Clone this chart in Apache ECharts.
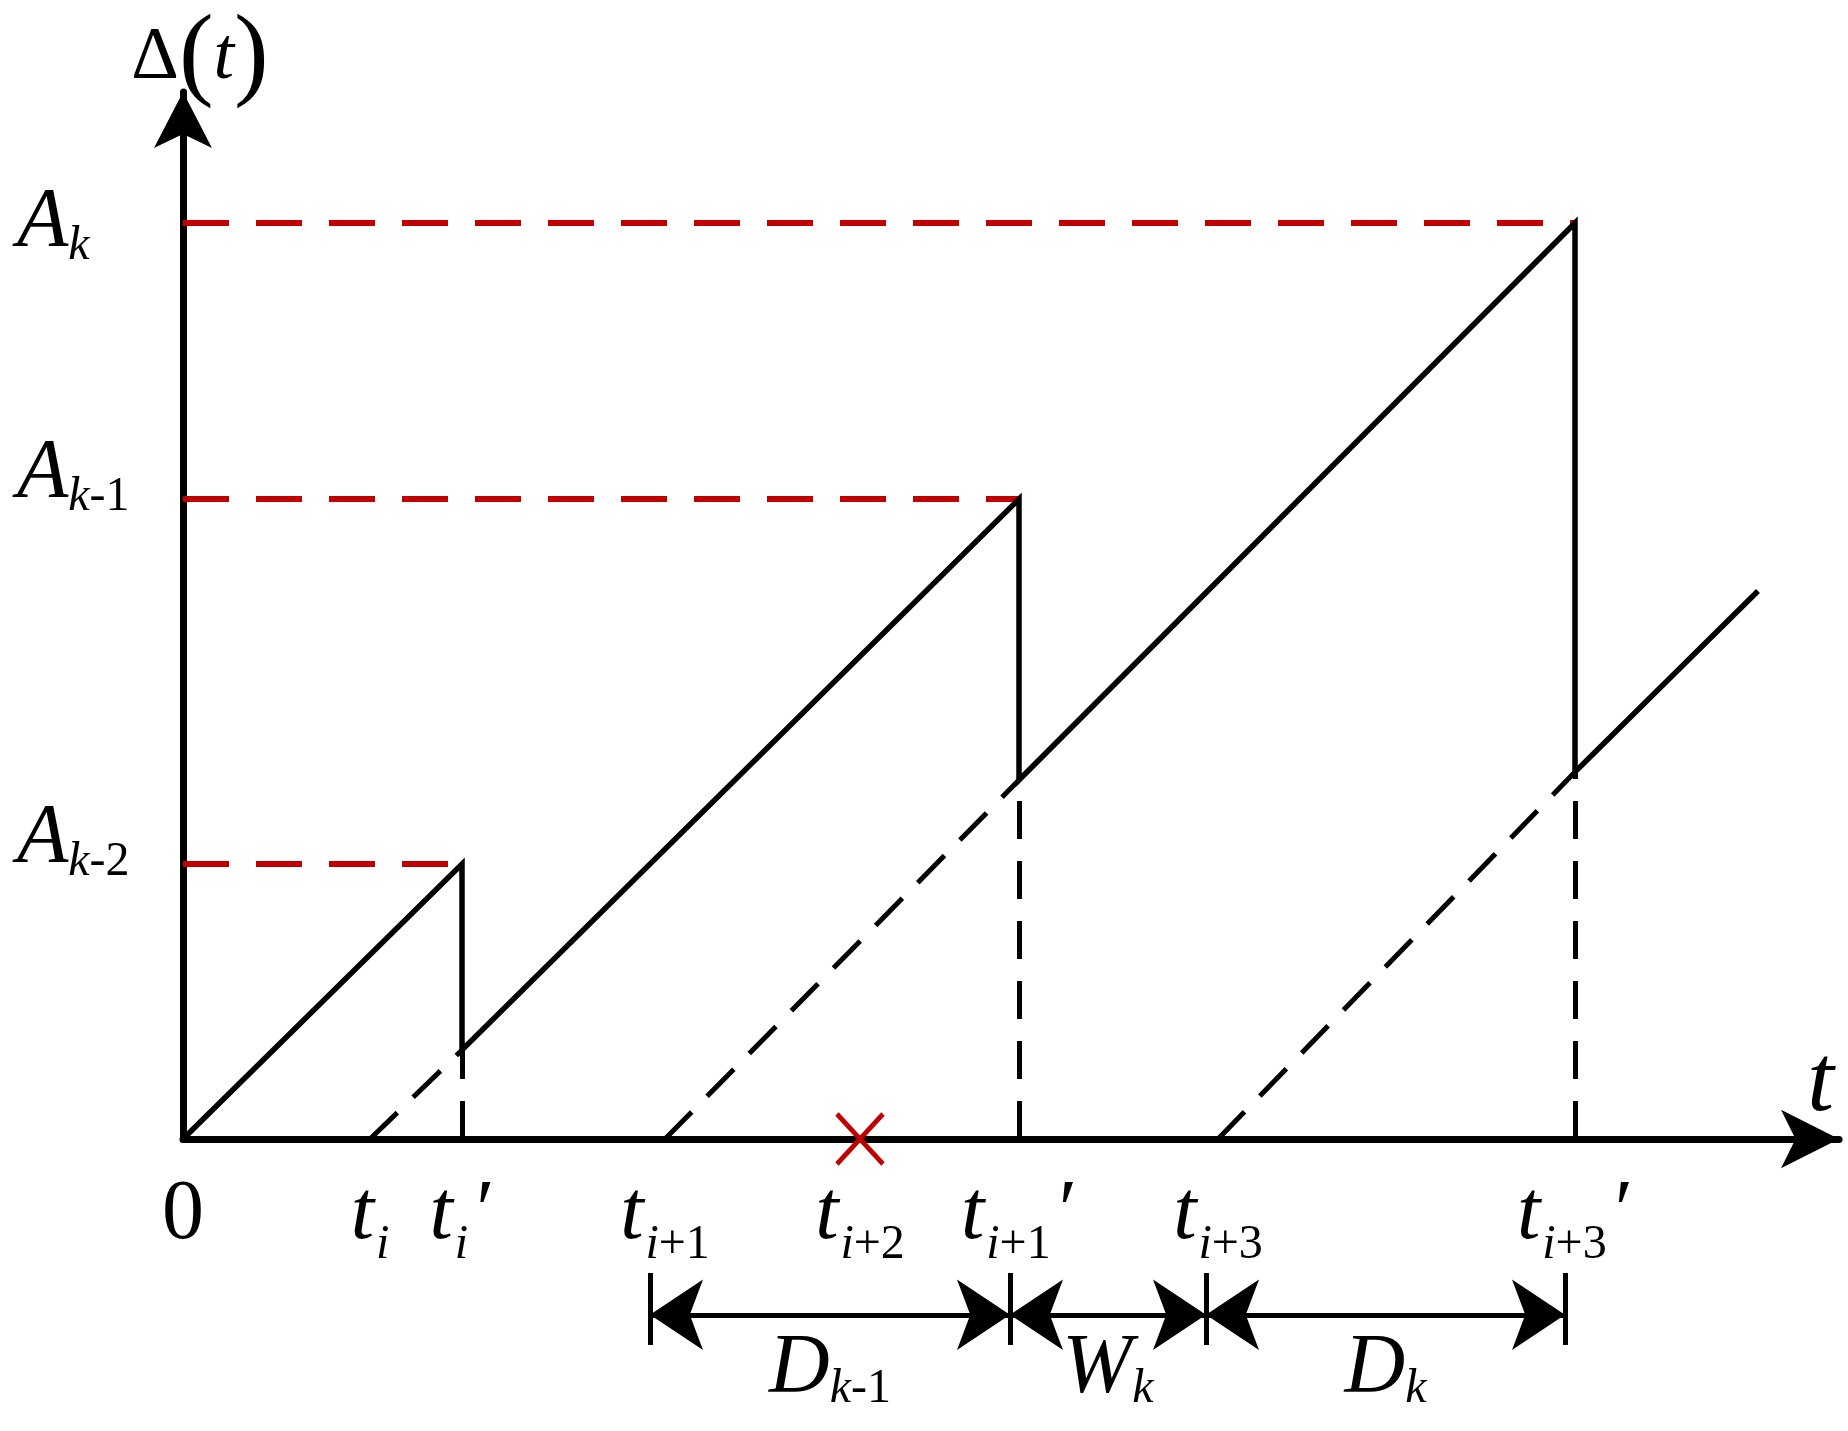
<!DOCTYPE html>
<html><head><meta charset="utf-8">
<script src="https://cdn.jsdelivr.net/npm/echarts@6/dist/echarts.min.js"></script>
<style>html,body{margin:0;padding:0;background:#fff}#c{width:1848px;height:1431px}</style>
</head><body><div id="c"></div>
<script>
// ---- data (time and age in the same arbitrary units) ----
const genTimes = [18.7, 48.2, 103.5];        // t_i, t_{i+1}, t_{i+3}
const deliveryTimes = [27.9, 83.6, 139.2];   // t_i', t_{i+1}', t_{i+3}'
const lostTimes = [67.7];                    // t_{i+2} (lost update)
const peakAges = [27.5, 64.0, 91.6];         // A_{k-2}, A_{k-1}, A_k
const resetAges = [8.9, 35.9, 36.7];         // age right after each delivery
const endPoint = [157.5, 54.8];
const xTickValues = [0, 18.7, 27.9, 48.2, 67.7, 83.6, 103.5, 139.2];
const xTickLabels = ['{z|0}', '{m|t}{s|i}', '{m|t}{s|i}{p|′}', '{m|t}{s|i}{u|+1}', '{m|t}{s|i}{u|+2}',
                     '{m|t}{s|i}{u|+1}{p|′}', '{m|t}{s|i}{u|+3}', '{m|t}{s|i}{u|+3}{p|′}'];
const yTickValues = [27.5, 64.0, 91.6];
const yTickLabels = ['{a1|A}{b1|k}{c1|-2}', '{a1|A}{b1|k}{c1|-1}', '{a2|A}{b2|k}'];
const dimMarks = [46.7, 82.7, 102.3, 138.2];
const dimLabels = ['{m|D}{s|k}{u|-1}', '{m|W}{s|k}', '{m|D}{s|k}'];

const serif = 'Liberation Serif';
const RED = '#c00000';
const DIM_Y = 0.42;

// assemble marks from the arrays
const sawtooth = [[0, 0]];
deliveryTimes.forEach((t, i) => { sawtooth.push([t, peakAges[i]], [t, resetAges[i]]); });
sawtooth.push(endPoint);
const dashedBlack = [];
genTimes.forEach((g, i) => dashedBlack.push({coords: [[g, 0], [deliveryTimes[i], resetAges[i]]]}));
deliveryTimes.forEach((t, i) => dashedBlack.push({coords: [[t, 0], [t, resetAges[i]]]}));
const redLines = peakAges.map((a, i) => ({coords: [[0, a], [deliveryTimes[i], a]]}));
const bars = dimMarks.map(m => ({coords: [[m, 0], [m, 1]]}));
const spans = [];
const arrowHalves = [];
for (let i = 0; i < dimMarks.length - 1; i++) {
  const a = dimMarks[i], b = dimMarks[i + 1], mid = (a + b) / 2;
  spans.push({coords: [[a, DIM_Y], [b, DIM_Y]]});
  arrowHalves.push({coords: [[mid, DIM_Y], [a, DIM_Y]]}, {coords: [[mid, DIM_Y], [b, DIM_Y]]});
}

function lookup(vals, labels, v) {
  let best = 0;
  vals.forEach((x, i) => { if (Math.abs(x - v) < Math.abs(vals[best] - v)) best = i; });
  return labels[best];
}

const X_MAX = 165.6;
const chart = echarts.init(document.getElementById('c'), null, {renderer: 'canvas'});
chart.setOption({
  animation: false,
  backgroundColor: '#fff',
  grid: [
    {left: 183, right: 9, top: 92, bottom: 292},
    {left: 183, right: 9, top: 1273, height: 72}
  ],
  xAxis: [{
    gridIndex: 0, type: 'value', min: 0, max: X_MAX,
    axisLine: {show: true, onZero: false, symbol: ['none', 'arrow'], symbolSize: [44, 58],
      lineStyle: {color: '#000', width: 7}},
    axisTick: {show: false}, splitLine: {show: false},
    axisLabel: {
      customValues: xTickValues, margin: 35, color: '#000',
      formatter: v => lookup(xTickValues, xTickLabels, v),
      rich: {
        m: {fontFamily: serif, fontSize: 84, fontStyle: 'italic', height: 84, verticalAlign: 'top', color: '#000'},
        z: {fontFamily: serif, fontSize: 84, height: 84, verticalAlign: 'top', color: '#000'},
        s: {fontFamily: serif, fontSize: 48, fontStyle: 'italic', height: 48, padding: [47, 0, 0, 2], verticalAlign: 'top', color: '#000'},
        u: {fontFamily: serif, fontSize: 48, height: 48, padding: [47, 0, 0, 0], verticalAlign: 'top', color: '#000'},
        p: {fontFamily: serif, fontSize: 84, height: 84, padding: [0, 0, 0, 8], verticalAlign: 'top', color: '#000'}
      }
    },
    name: 't', nameLocation: 'end', nameGap: -5,
    nameTextStyle: {fontFamily: serif, fontStyle: 'italic', fontSize: 96, lineHeight: 96, color: '#000',
      align: 'right', verticalAlign: 'bottom', padding: [0, 0, 6, 0]}
  }, {
    gridIndex: 1, type: 'value', min: 0, max: X_MAX, show: false
  }],
  yAxis: [{
    gridIndex: 0, type: 'value', min: 0, max: 104.7,
    axisLine: {show: true, onZero: false, symbol: ['none', 'arrow'], symbolSize: [43.5, 56],
      lineStyle: {color: '#000', width: 7}},
    axisTick: {show: false}, splitLine: {show: false},
    axisLabel: {
      customValues: yTickValues, margin: 166, align: 'left', color: '#000',
      formatter: v => lookup(yTickValues, yTickLabels, v),
      rich: {
        a1: {fontFamily: serif, fontSize: 84, fontStyle: 'italic', height: 84, padding: [0, 0, 48, 0], verticalAlign: 'top', color: '#000'},
        b1: {fontFamily: serif, fontSize: 48, fontStyle: 'italic', height: 48, padding: [40, 0, 0, 0], verticalAlign: 'top', color: '#000'},
        c1: {fontFamily: serif, fontSize: 48, height: 48, padding: [40, 0, 0, 0], verticalAlign: 'top', color: '#000'},
        a2: {fontFamily: serif, fontSize: 84, fontStyle: 'italic', height: 84, padding: [6, 0, 0, 0], verticalAlign: 'top', color: '#000'},
        b2: {fontFamily: serif, fontSize: 48, fontStyle: 'italic', height: 48, padding: [46, 0, 0, 0], verticalAlign: 'top', color: '#000'}
      }
    },
    name: '{d|Δ}{p|(}{t|t}{p|)}', nameLocation: 'end', nameGap: -19,
    nameTextStyle: {align: 'center', verticalAlign: 'bottom', padding: [0, 0, 0, 34],
      rich: {
        d: {fontFamily: serif, fontSize: 74, color: '#000'},
        p: {fontFamily: serif, fontSize: 104, color: '#000'},
        t: {fontFamily: serif, fontSize: 74, fontStyle: 'italic', color: '#000'}
      }}
  }, {
    gridIndex: 1, type: 'value', min: 0, max: 1, show: false
  }],
  series: [
    {type: 'lines', coordinateSystem: 'cartesian2d', xAxisIndex: 0, yAxisIndex: 0, data: redLines, clip: false,
      symbol: ['none', 'none'], lineStyle: {color: RED, width: 6, type: [46, 27], opacity: 1}, z: 3},
    {type: 'lines', coordinateSystem: 'cartesian2d', xAxisIndex: 0, yAxisIndex: 0, data: dashedBlack, clip: false,
      symbol: ['none', 'none'], lineStyle: {color: '#000', width: 5, type: [38, 22], opacity: 1}, z: 3},
    {type: 'line', xAxisIndex: 0, yAxisIndex: 0, data: sawtooth, symbol: 'none', clip: false,
      lineStyle: {color: '#000', width: 5.5, join: 'miter'}, z: 4},
    {type: 'scatter', xAxisIndex: 0, yAxisIndex: 0, data: lostTimes.map(t => [t, 0]), clip: false,
      symbol: 'path://M0 0L10 10M10 0L0 10', symbolSize: [46, 50],
      itemStyle: {color: 'rgba(0,0,0,0)', borderColor: RED, borderWidth: 5, opacity: 1}, z: 6},
    {type: 'lines', coordinateSystem: 'cartesian2d', xAxisIndex: 1, yAxisIndex: 1, data: bars, clip: false,
      symbol: ['none', 'none'], lineStyle: {color: '#000', width: 5, opacity: 1}},
    {type: 'lines', coordinateSystem: 'cartesian2d', xAxisIndex: 1, yAxisIndex: 1, data: arrowHalves, clip: false,
      symbol: ['none', 'arrow'], symbolSize: [39, 53], symbolOffset: [0, 26.5],
      lineStyle: {color: '#000', width: 5, opacity: 1},
      itemStyle: {color: '#000'}},
    {type: 'lines', coordinateSystem: 'cartesian2d', xAxisIndex: 1, yAxisIndex: 1, data: spans, clip: false,
      symbol: ['none', 'none'],
      lineStyle: {color: '#000', width: 5, opacity: 1},
      label: {show: true, position: 'insideMiddleBottom', distance: 13,
        formatter: p => dimLabels[p.dataIndex],
        rich: {
          m: {fontFamily: serif, fontSize: 84, fontStyle: 'italic', height: 84, verticalAlign: 'top', color: '#000'},
          s: {fontFamily: serif, fontSize: 48, fontStyle: 'italic', height: 48, padding: [38, 0, 0, 0], verticalAlign: 'top', color: '#000'},
          u: {fontFamily: serif, fontSize: 48, height: 48, padding: [38, 0, 0, 0], verticalAlign: 'top', color: '#000'}
        }}}
  ]
});
</script></body></html>
